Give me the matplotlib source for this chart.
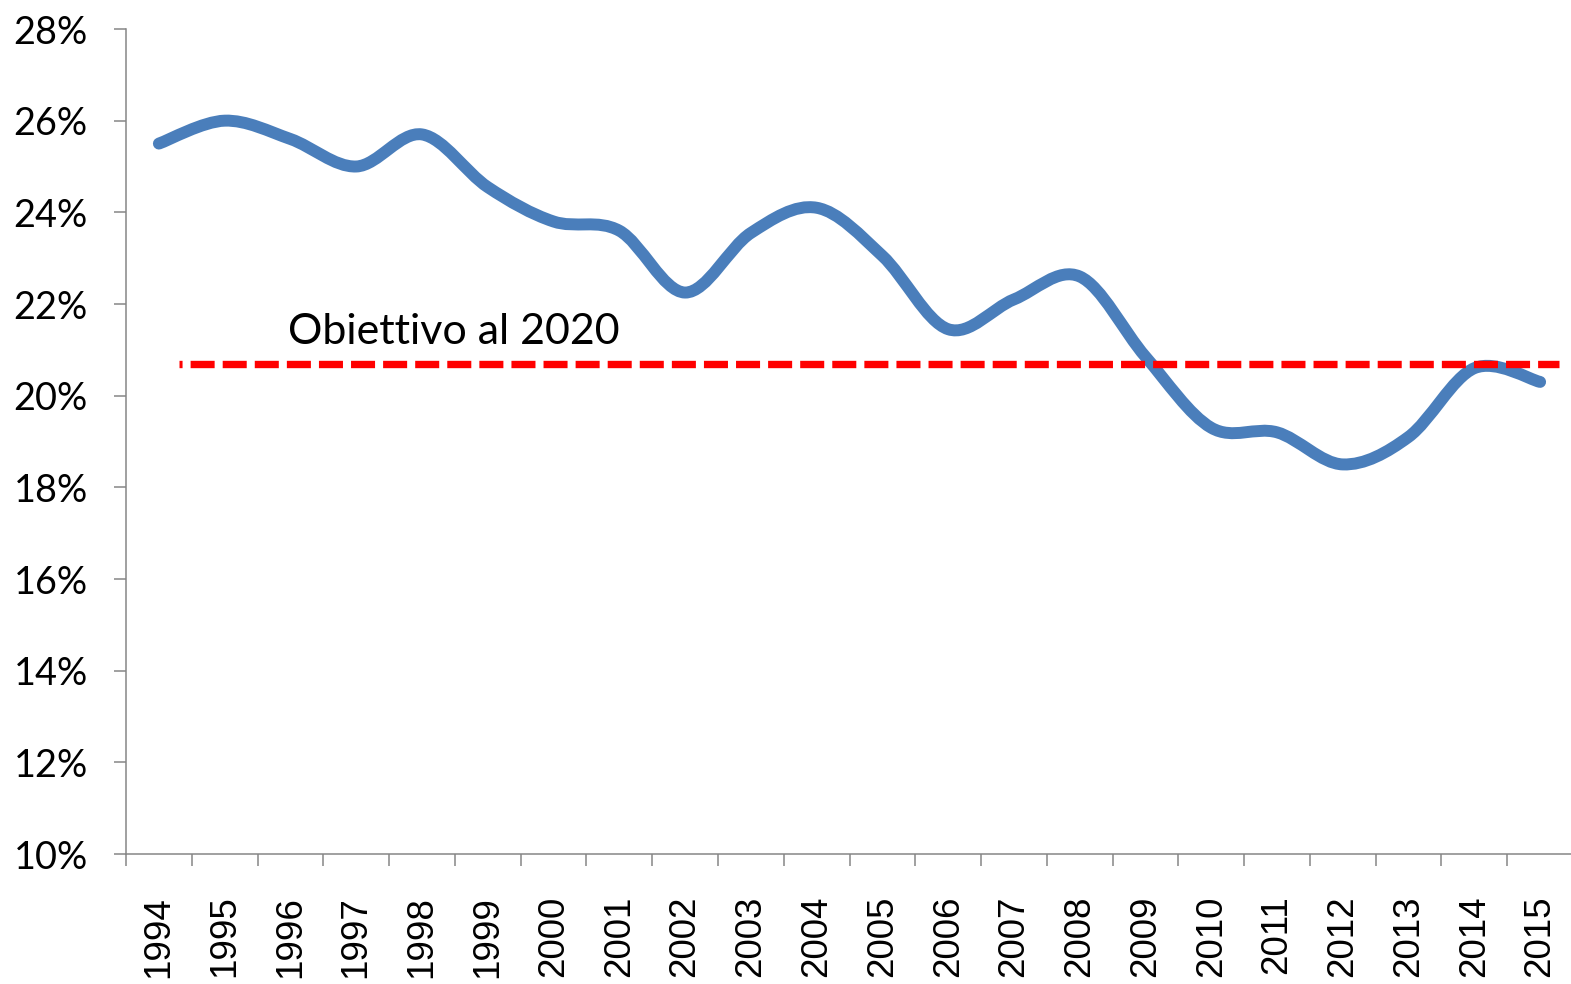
import matplotlib
matplotlib.use('Agg')
import matplotlib.pyplot as plt
from matplotlib.path import Path
from matplotlib.patches import PathPatch
from matplotlib.ticker import FuncFormatter, MultipleLocator, FixedLocator
import numpy as np

# dati
anni = ['1994', '1995', '1996', '1997', '1998', '1999', '2000', '2001', '2002', '2003', '2004',
        '2005', '2006', '2007', '2008', '2009', '2010', '2011', '2012', '2013', '2014', '2015']
valori = [25.5, 26.0, 25.6, 25.0, 25.7, 24.55, 23.8, 23.6, 22.25, 23.55, 24.1,
          23.05, 21.45, 22.1, 22.6, 20.85, 19.3, 19.2, 18.5, 19.1, 20.6, 20.3]
obiettivo = 20.7
obiettivo_da = 0.3     # posizione (in categorie) dell'inizio della linea tratteggiata
obiettivo_a = 21.28
etichetta_obiettivo = 'Obiettivo al 2020'

BLU = '#4A7EBB'
GRIGIO = '#868686'

plt.rcParams['lines.scale_dashes'] = False


def smooth_path(x, y):
    # curva "smussata" stile Excel: bezier cubiche con punti di controllo catmull-rom
    pts = np.column_stack([x, y])
    verts = [pts[0]]
    codes = [Path.MOVETO]
    n = len(pts)
    for i in range(n - 1):
        p0 = pts[i - 1] if i > 0 else pts[i]
        p1 = pts[i]
        p2 = pts[i + 1]
        p3 = pts[i + 2] if i + 2 < n else pts[i + 1]
        c1 = p1 + (p2 - p0) / 6.0
        c2 = p2 - (p3 - p1) / 6.0
        verts += [c1, c2, p2]
        codes += [Path.CURVE4] * 3
    return Path(verts, codes)


fig = plt.figure(figsize=(15.71, 9.84), dpi=100)
ax = fig.add_axes([126 / 1571, 1 - 854 / 984, 1447 / 1571, 825 / 984])

x = np.arange(len(anni))
patch = PathPatch(smooth_path(x, valori), facecolor='none', edgecolor=BLU,
                  linewidth=8.6, capstyle='round', joinstyle='round', zorder=3)
ax.add_patch(patch)

# il primo trattino e' tagliato, da qui l'offset
ax.plot([obiettivo_da, obiettivo_a], [obiettivo, obiettivo], color='#FF0000',
        linewidth=5.3, dash_capstyle='butt',
        linestyle=(15.1, (17.3, 5.8)), zorder=4)

ax.text(1.97, 21.4, etichetta_obiettivo, fontsize=31, family='Lato',
        ha='left', va='center', color='black')

ax.set_xlim(-0.5, len(anni) - 0.5)
ax.set_ylim(10, 28)

ax.yaxis.set_major_locator(MultipleLocator(2))
ax.yaxis.set_major_formatter(FuncFormatter(lambda v, p: '{0:.0f}%'.format(v)))

ax.xaxis.set_major_locator(FixedLocator(x))
ax.set_xticklabels(anni, rotation=90, family='Liberation Sans', fontsize=26.5)
ax.xaxis.set_minor_locator(FixedLocator(np.arange(len(anni) + 1) - 0.5))
ax.tick_params(axis='x', which='major', length=0, pad=30)
ax.tick_params(axis='x', which='minor', length=8.6, width=1.1, color=GRIGIO, direction='out')
ax.tick_params(axis='y', length=8.6, width=1.1, color=GRIGIO, direction='out', pad=19)
for lab in ax.get_yticklabels():
    lab.set_family('Lato')
    lab.set_fontsize(27.3)

for s in ['top', 'right']:
    ax.spines[s].set_visible(False)
for s in ['left', 'bottom']:
    ax.spines[s].set_color(GRIGIO)
    ax.spines[s].set_linewidth(1.1)

fig.savefig('out.png', dpi=100)
